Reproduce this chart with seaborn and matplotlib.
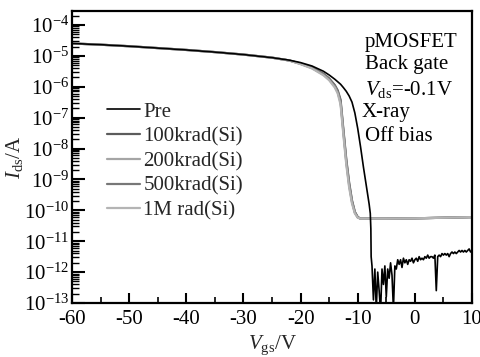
import seaborn as sns
import matplotlib.pyplot as plt
import numpy as np
import pandas as pd
from matplotlib.ticker import LogLocator, MultipleLocator, NullFormatter

# Vgs grid for the smooth part of the curves (V)
vgs_pre = [-60, -55, -50, -45, -40, -35, -30, -25, -22, -20, -18, -16, -15, -14, -13,
           -12.5, -12, -11.5, -11, -10.5, -10, -9.5, -9, -8.5, -8, -7.8, -7.7, -7.65]
# log10(Ids) of the pre-irradiation curve
log_pre = [-4.60, -4.64, -4.69, -4.75, -4.81, -4.88, -4.96, -5.06, -5.14, -5.22, -5.33, -5.50, -5.62,
           -5.76, -5.92, -6.03, -6.15, -6.30, -6.50, -6.85, -7.35, -7.95, -8.60, -9.20, -9.80,
           -10.10, -10.60, -11.50]

# noisy off-current of the pre curve
vgs_noise = [-7.5, -7.25, -7.0, -6.75, -6.5, -6.25, -6.0, -5.75, -5.5, -5.25, -5.0, -4.75, -4.5,
             -4.25, -4.0, -3.75, -3.5, -3.25, -3.0, -2.75, -2.5, -2.25, -2.0, -1.75, -1.5, -1.25,
             -1.0, -0.75, -0.5, -0.25, 0.0, 0.25, 0.5, 0.75, 1.0, 1.25, 1.5, 1.75, 2.0, 2.25, 2.5,
             2.75, 3.0, 3.25, 3.5, 3.75, 4.0, 4.25, 4.5, 4.75, 5.0, 5.25, 5.5, 5.75, 6.0, 6.25, 6.5,
             6.75, 7.0, 7.25, 7.5, 7.75, 8.0, 8.25, 8.5, 8.75, 9.0, 9.25, 9.5, 9.75, 10.0]
log_noise = [-11.80, -12.90, -11.90, -13.20, -12.00, -12.60, -13.30, -11.90, -12.40, -11.80, -12.80,
             -11.90, -12.20, -11.70, -12.10, -13.20, -11.80, -11.90, -11.60, -11.75, -11.60, -11.85,
             -11.55, -11.70, -11.60, -11.75, -11.60, -11.65, -11.55, -11.70, -11.60, -11.55, -11.65,
             -11.50, -11.60, -11.55, -11.60, -11.50, -11.55, -11.45, -11.55, -11.50, -11.50, -11.55,
             -11.45, -12.60, -11.50, -11.45, -11.50, -11.40, -11.45, -11.40, -11.45, -11.40, -11.50,
             -11.40, -11.35, -11.40, -11.35, -11.40, -11.35, -11.30, -11.35, -11.30, -11.35, -11.30,
             -11.35, -11.30, -11.25, -11.35, -11.30]

# irradiated curves
vgs_irr = [-60, -55, -50, -45, -40, -35, -30, -25, -22, -20, -18, -16, -15, -14, -13.5, -13,
           -12.5, -12, -11.5, -11, -10.5, -10, -9.5, -5, 0, 5, 10]
log_100k = [-4.60, -4.64, -4.69, -4.75, -4.81, -4.88, -4.96, -5.06, -5.15, -5.25, -5.38, -5.58, -5.73,
            -5.95, -6.12, -6.42, -7.40, -8.35, -9.10, -9.68, -10.05, -10.22, -10.27, -10.27, -10.26,
            -10.24, -10.22]
log_200k = [-4.60, -4.64, -4.69, -4.75, -4.81, -4.88, -4.96, -5.06, -5.15, -5.26, -5.40, -5.61, -5.77,
            -6.00, -6.18, -6.52, -7.50, -8.45, -9.20, -9.74, -10.08, -10.23, -10.27, -10.27, -10.26,
            -10.24, -10.22]
log_500k = [-4.60, -4.64, -4.69, -4.75, -4.81, -4.88, -4.96, -5.06, -5.15, -5.26, -5.39, -5.60, -5.75,
            -5.98, -6.15, -6.48, -7.45, -8.40, -9.15, -9.71, -10.06, -10.22, -10.27, -10.27, -10.26,
            -10.24, -10.22]
log_1m = [-4.60, -4.64, -4.69, -4.75, -4.81, -4.88, -4.96, -5.06, -5.15, -5.27, -5.41, -5.63, -5.79,
          -6.03, -6.22, -6.58, -7.58, -8.52, -9.26, -9.78, -10.10, -10.24, -10.27, -10.27, -10.26,
          -10.24, -10.22]

labels = ['Pre', '100krad(Si)', '200krad(Si)', '500krad(Si)', '1M rad(Si)']
colors = ['#000000', '#5c5c5c', '#a5a5a5', '#777777', '#b4b4b4']

sns.set_theme(style='ticks')
plt.rcParams['font.family'] = ['Liberation Serif', 'DejaVu Serif']
plt.rcParams['mathtext.fontset'] = 'custom'
plt.rcParams['mathtext.rm'] = 'Liberation Serif'
plt.rcParams['mathtext.it'] = 'Liberation Serif:italic'
plt.rcParams['axes.unicode_minus'] = False

fig = plt.figure(figsize=(4.81, 3.57), dpi=100)
ax = fig.add_axes([72 / 481, 54 / 357, 400 / 481, 292 / 357])

series = [
    (vgs_pre + vgs_noise, log_pre + log_noise),
    (vgs_irr, log_100k),
    (vgs_irr, log_200k),
    (vgs_irr, log_500k),
    (vgs_irr, log_1m),
]
widths = [1.2, 1.6, 1.6, 1.6, 1.6]
order = [1, 2, 3, 4, 0]
for i in order:
    v, lg = series[i]
    df = pd.DataFrame({'Vgs': v, 'Ids': np.power(10.0, lg)})
    sns.lineplot(data=df, x='Vgs', y='Ids', color=colors[i], lw=widths[i],
                 estimator=None, sort=False, ax=ax, label=labels[i], legend=False)

ax.set_yscale('log')
ax.set_xlim(-60, 10)
ax.set_ylim(1e-13, 10 ** -3.55)
ax.xaxis.set_major_locator(MultipleLocator(10))
ax.xaxis.set_minor_locator(MultipleLocator(5))
ax.yaxis.set_major_locator(LogLocator(base=10, numticks=20))
ax.yaxis.set_minor_locator(LogLocator(base=10, subs=np.arange(2, 10), numticks=20))
ax.yaxis.set_minor_formatter(NullFormatter())

ax.tick_params(axis='both', which='both', direction='in', colors='black',
               labelsize=15, top=False, right=False)
ax.tick_params(axis='x', which='major', length=7, width=1.5, pad=5)
ax.tick_params(axis='x', which='minor', length=4, width=1.2)
ax.tick_params(axis='y', which='major', length=9, width=1.5, pad=2)
ax.tick_params(axis='y', which='minor', length=5, width=1.0)
for side, sp in ax.spines.items():
    sp.set_color('black')
    sp.set_linewidth(1.6)

ax.set_xlabel(r'$V_{\mathrm{gs}}$/V', fontsize=15, labelpad=3)
ax.set_ylabel(r'$I_{\mathrm{ds}}$/A', fontsize=15, labelpad=-1)

handles = {l.get_label(): l for l in ax.get_lines()}
ax.legend([handles[l] for l in labels], labels, loc='upper left',
          bbox_to_anchor=(35 / 400, (303 - 102) / 292), frameon=False, fontsize=15,
          handlelength=1.6, handletextpad=0.15, labelspacing=0.25, borderpad=0, borderaxespad=0)

notes = [('pMOSFET', 365, 42), ('Back gate', 365, 65), (r'$V_{\mathrm{ds}}$=-0.1V', 365, 89),
         ('X-ray', 362, 113), ('Off bias', 365, 137)]
for txt, px, py in notes:
    ax.text((px - 72) / 400, (303 - py) / 292, txt, transform=ax.transAxes,
            fontsize=15, ha='left', va='center', color='black')

fig.savefig('out.png', dpi=100)
